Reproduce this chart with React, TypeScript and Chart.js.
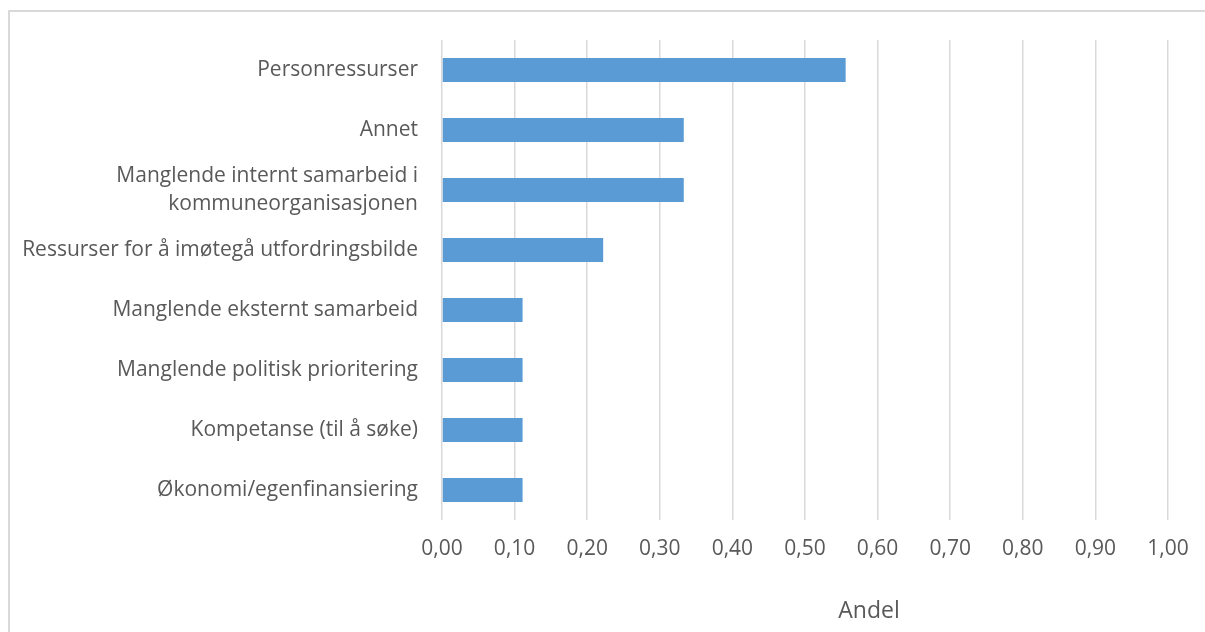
import React, { useEffect, useRef } from "react";
import { Chart, registerables } from "chart.js";

Chart.register(...registerables);

// Obstacles, listed top to bottom
const categories: (string | string[])[] = [
  "Personressurser",
  "Annet",
  ["Manglende internt samarbeid i", "kommuneorganisasjonen"],
  "Ressurser for å imøtegå utfordringsbilde",
  "Manglende eksternt samarbeid",
  "Manglende politisk prioritering",
  "Kompetanse (til å søke)",
  "Økonomi/egenfinansiering",
];

// Share of respondents naming each obstacle
const andel: number[] = [0.556, 0.333, 0.333, 0.222, 0.111, 0.111, 0.111, 0.111];

const axisMin = 0;
const axisMax = 1;
const axisStep = 0.1;
const axisTitle = "Andel";

const FONT = "'Open Sans', sans-serif";
const TEXT = "#595959";
const BAR = "#5B9BD5";
const GRID = "#d9d9d9";

export default function App() {
  const canvasRef = useRef<HTMLCanvasElement | null>(null);

  useEffect(() => {
    if (!canvasRef.current) return;
    const chart = new Chart(canvasRef.current, {
      type: "bar",
      data: {
        labels: categories,
        datasets: [
          {
            data: andel,
            backgroundColor: BAR,
            borderWidth: 0,
            categoryPercentage: 1,
            barPercentage: 0.4,
          },
        ],
      },
      options: {
        indexAxis: "y",
        responsive: false,
        animation: false,
        layout: { padding: { top: 40, right: 37, left: 0, bottom: 0 } },
        plugins: {
          legend: { display: false },
          tooltip: { enabled: false },
        },
        scales: {
          x: {
            min: axisMin,
            max: axisMax,
            border: { display: false },
            grid: { color: GRID, lineWidth: 1.5, drawTicks: false },
            ticks: {
              stepSize: axisStep,
              padding: 16,
              color: TEXT,
              font: { family: FONT, size: 21 },
              callback: (v) => Number(v).toFixed(2).replace(".", ","),
            },
            afterFit: (scale) => {
              scale.height = 112;
            },
          },
          y: {
            border: { display: false },
            grid: { display: false, drawTicks: false },
            ticks: {
              padding: 24,
              color: TEXT,
              font: { family: FONT, size: 21, lineHeight: 1.33 },
            },
            afterFit: (scale) => {
              scale.width = 442;
            },
          },
        },
      },
    });
    return () => chart.destroy();
  }, []);

  return (
    <div
      style={{
        position: "fixed",
        left: 0,
        top: 0,
        width: 1205,
        height: 632,
        overflow: "hidden",
        background: "#fff",
      }}
    >
      <div
        style={{
          position: "absolute",
          left: 8,
          top: 10,
          width: 1400,
          height: 800,
          border: `2px solid ${GRID}`,
        }}
      />
      <canvas
        ref={canvasRef}
        width={1205}
        height={632}
        style={{ position: "absolute", left: 0, top: 0 }}
      />
      <div
        style={{
          position: "absolute",
          left: 769,
          width: 200,
          top: 595,
          textAlign: "center",
          fontFamily: FONT,
          fontSize: 23,
          color: TEXT,
          lineHeight: "28px",
        }}
      >
        {axisTitle}
      </div>
    </div>
  );
}
